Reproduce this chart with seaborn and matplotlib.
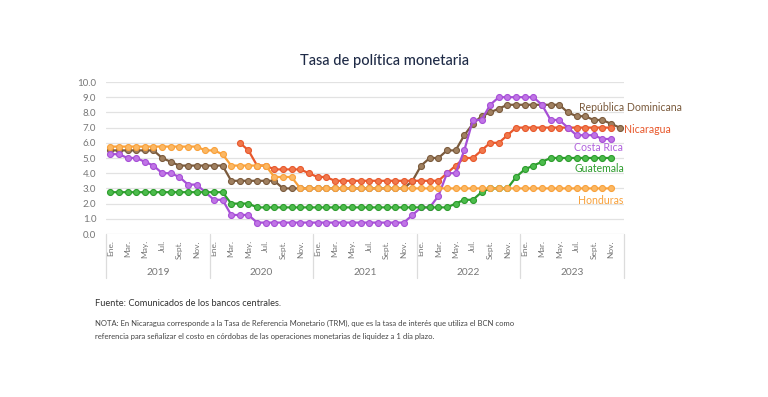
import numpy as np
import pandas as pd
import matplotlib
matplotlib.use("Agg")
import matplotlib.pyplot as plt
import matplotlib.transforms as mtransforms
import seaborn as sns

nan = np.nan

years = ["2019", "2020", "2021", "2022", "2023"]
month_labels = ["Ene.", "", "Mar.", "", "May.", "", "Jul.", "", "Sept.", "", "Nov.", ""]

honduras = ([5.75] * 11 + [5.5]
            + [5.5, 5.25, 4.5, 4.5, 4.5, 4.5, 4.5, 3.75, 3.75, 3.75, 3.0, 3.0]
            + [3.0] * 12
            + [3.0] * 12
            + [3.0] * 11 + [nan])

rep_dominicana = ([5.5] * 6 + [5.0, 4.75, 4.5, 4.5, 4.5, 4.5]
                  + [4.5, 4.5, 3.5, 3.5, 3.5, 3.5, 3.5, 3.5, 3.0, 3.0, 3.0, 3.0]
                  + [3.0] * 11 + [3.5]
                  + [4.5, 5.0, 5.0, 5.5, 5.5, 6.5, 7.25, 7.75, 8.0, 8.25, 8.5, 8.5]
                  + [8.5, 8.5, 8.5, 8.5, 8.5, 8.0, 7.75, 7.75, 7.5, 7.5, 7.25, 7.0])

nicaragua = ([nan] * 12
             + [nan] * 3 + [6.0, 5.5, 4.5, 4.5, 4.25, 4.25, 4.25, 4.25, 4.0]
             + [3.75, 3.75] + [3.5] * 10
             + [3.5, 3.5, 3.5, 4.0, 4.5, 5.0, 5.0, 5.5, 6.0, 6.0, 6.5, 7.0]
             + [7.0] * 11 + [nan])

costa_rica = ([5.25, 5.25, 5.0, 5.0, 4.75, 4.5, 4.0, 4.0, 3.75, 3.25, 3.25, 2.75]
              + [2.25, 2.25, 1.25, 1.25, 1.25] + [0.75] * 7
              + [0.75] * 11 + [1.25]
              + [1.75, 1.75, 2.5, 4.0, 4.0, 5.5, 7.5, 7.5, 8.5, 9.0, 9.0, 9.0]
              + [9.0, 9.0, 8.5, 7.5, 7.5, 7.0, 6.5, 6.5, 6.5, 6.25, 6.25, nan])

guatemala = ([2.75] * 12
             + [2.75, 2.75, 2.0, 2.0, 2.0] + [1.75] * 7
             + [1.75] * 12
             + [1.75] * 4 + [2.0, 2.25, 2.25, 2.75, 3.0, 3.0, 3.0, 3.75]
             + [4.25, 4.5, 4.75] + [5.0] * 8 + [nan])

series = [
    ("República Dominicana", rep_dominicana, "#7a5a3c", "#a08060"),
    ("Nicaragua", nicaragua, "#e8582c", "#f0784c"),
    ("Costa Rica", costa_rica, "#a64fd6", "#c074e6"),
    ("Guatemala", guatemala, "#2d9c2d", "#4cbc4c"),
    ("Honduras", honduras, "#f9a13a", "#fbb865"),
]

W, H = 768, 397
fig = plt.figure(figsize=(W / 100, H / 100), dpi=100)
sns.set_style("white")
plt.rcParams["font.family"] = ["Lato", "DejaVu Sans"]

ax_left, ax_right, ax_top, ax_bot = 106, 624, 82, 234
ax = fig.add_axes([ax_left / W, 1 - ax_bot / H, (ax_right - ax_left) / W, (ax_bot - ax_top) / H])

n = len(honduras)
idx = np.arange(n)
for name, vals, col, fc in series:
    df = pd.DataFrame({"mes": idx, "tasa": vals}).dropna()
    sns.lineplot(data=df, x="mes", y="tasa", ax=ax, color=col, linewidth=1.6,
                 marker="o", markersize=4.3, markerfacecolor=fc, markeredgecolor=col,
                 markeredgewidth=0.8, legend=False)

ax.set_xlim(-0.5, n - 0.5)
ax.set_ylim(0, 10)
ax.set_yticks(np.arange(0, 10.01, 1.0))
ax.set_yticklabels([f"{v:.1f}" for v in np.arange(0, 10.01, 1.0)], fontsize=7, color="#777777")
ax.yaxis.grid(True, color="#e2e2e2", linewidth=0.9)
ax.set_axisbelow(True)
for s in ax.spines.values():
    s.set_visible(False)
ax.tick_params(axis="y", length=0, pad=7)

ticks = [i for i in range(n) if month_labels[i % 12]]
ax.set_xticks(ticks)
ax.set_xticklabels([month_labels[i % 12] for i in ticks], rotation=90, fontsize=6,
                   color="#777777", va="top", ha="center")
ax.tick_params(axis="x", length=0, pad=4.5)
ax.set_xlabel("")
ax.set_ylabel("")

trans = mtransforms.blended_transform_factory(ax.transData, ax.transAxes)
hgt = ax_bot - ax_top
for k in range(len(years) + 1):
    xs = -0.5 + 12 * k
    ax.plot([xs, xs], [0, -(278 - ax_bot) / hgt], transform=trans, color="#dcdcdc",
            linewidth=0.9, clip_on=False)
for k, y in enumerate(years):
    ax.text(5.5 + 12 * k, -(272.5 - ax_bot) / hgt, y, transform=trans, ha="center",
            va="center", fontsize=7.3, color="#777777")

fig.text(385 / W, 1 - 60.5 / H, "Tasa de política monetaria", ha="center", va="center",
         fontsize=10.5, color="#1f2b47", fontweight="medium")

lab = [
    ("República Dominicana", 579, 107.3, "left", "#7a5a3c"),
    ("Nicaragua", 624, 129.3, "left", "#e8582c"),
    ("Costa Rica", 623, 147.3, "right", "#b062dc"),
    ("Guatemala", 624, 168.3, "right", "#2d9c2d"),
    ("Honduras", 623, 200, "right", "#f9a13a"),
]
for t, x, y, ha, c in lab:
    fig.text(x / W, 1 - y / H, t, ha=ha, va="center", fontsize=7.6, color=c)

fig.text(95 / W, 1 - 304 / H, "Fuente: Comunicados de los bancos centrales.",
         ha="left", va="center", fontsize=6.7, color="#333333")
fig.text(95 / W, 1 - 323 / H,
         "NOTA: En Nicaragua corresponde a la Tasa de Referencia Monetario (TRM), que es la tasa de interés que utiliza el BCN como",
         ha="left", va="center", fontsize=5.5, color="#444444")
fig.text(95 / W, 1 - 336 / H,
         "referencia para señalizar el costo en córdobas de las operaciones monetarias de liquidez a 1 día plazo.",
         ha="left", va="center", fontsize=5.5, color="#444444")

fig.savefig("out.png", dpi=100, facecolor="white")
